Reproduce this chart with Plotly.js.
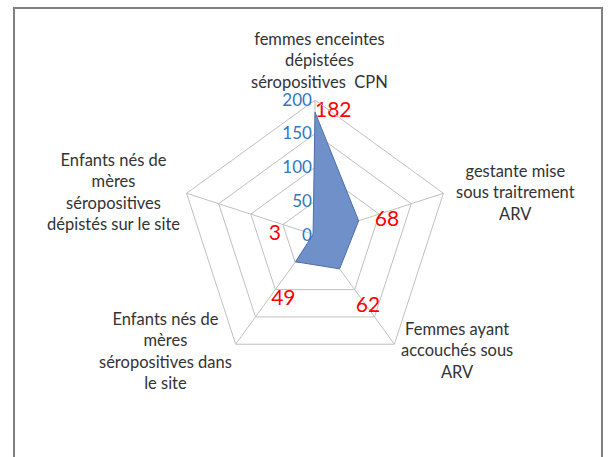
<!DOCTYPE html>
<html>
<head>
<meta charset="utf-8">
<script src="https://cdn.plot.ly/plotly-3.0.1.min.js"></script>
<style>html,body{margin:0;padding:0;background:#fff;}#chart{width:610px;height:457px;}</style>
</head>
<body>
<div id="chart"></div>
<script>
var categories = [
  "femmes enceintes<br>dépistées<br>séropositives  CPN",
  "gestante mise<br>sous traitrement<br>ARV",
  "Femmes ayant<br>accouchés sous<br>ARV",
  "Enfants nés de<br>mères<br>séropositives dans<br>le site",
  "Enfants nés de<br>mères<br>séropositives<br>dépistés sur le site"
];
var values = [182, 68, 62, 49, 3];
var radialTicks = [0, 50, 100, 150, 200];

var closedTheta = categories.concat([categories[0]]);
var closedR = values.concat([values[0]]);

var NB = '\u00a0';
// data-label text, with small padding so each label sits where the reference puts it
var labelText = [
  String(values[0]),
  NB + NB + NB + String(values[1]),
  '<br>' + NB + NB + NB + String(values[2]),
  '<br>' + String(values[3]),
  String(values[4]) + NB + NB + NB + NB + NB + NB
];

var fillTrace = {
  type: 'scatterpolar',
  r: closedR,
  theta: closedTheta,
  mode: 'lines',
  fill: 'toself',
  fillcolor: '#7090c9',
  line: {color: '#4d6ea8', width: 1},
  hoverinfo: 'skip',
  showlegend: false
};

var labelTrace = {
  type: 'scatterpolar',
  r: values,
  theta: categories,
  mode: 'text',
  text: labelText,
  textposition: ['middle right', 'middle right', 'bottom right', 'bottom left', 'middle left'],
  textfont: {family: 'Lato, Carlito, sans-serif', size: 21, color: '#ff0000'},
  hoverinfo: 'skip',
  showlegend: false
};

var labelPos = [[319, 60], [515, 192], [457, 350], [165, 351], [113, 192]];
var annotations = categories.map(function (c, i) {
  return {
    text: c, xref: 'paper', yref: 'paper',
    x: labelPos[i][0] / 610, y: 1 - labelPos[i][1] / 457,
    xanchor: 'center', yanchor: 'middle', align: 'center',
    showarrow: false,
    font: {family: 'Lato, Carlito, sans-serif', size: 16.5, color: '#333333'}
  };
});

var cx = 315, cy = 235, R = 135;
var layout = {
  width: 610, height: 457,
  margin: {l: 0, r: 0, t: 0, b: 0},
  paper_bgcolor: '#ffffff',
  showlegend: false,
  polar: {
    domain: {x: [(cx - R) / 610, (cx + R) / 610], y: [1 - (cy + R) / 457, 1 - (cy - R) / 457]},
    gridshape: 'linear',
    bgcolor: 'rgba(0,0,0,0)',
    radialaxis: {
      range: [0, 200], tickvals: radialTicks, ticktext: radialTicks.map(String),
      angle: 90, side: 'counterclockwise', tickangle: 90,
      showline: false, ticks: '', gridcolor: '#c0c0c0', gridwidth: 1,
      tickfont: {family: 'Lato, Carlito, sans-serif', size: 17, color: '#2f78be'}
    },
    angularaxis: {
      direction: 'clockwise', rotation: 90,
      showticklabels: false, ticks: '',
      gridcolor: '#c0c0c0', linecolor: '#c0c0c0', showline: true, linewidth: 1
    }
  },
  annotations: annotations,
  shapes: [{
    type: 'rect', xref: 'paper', yref: 'paper',
    x0: 14 / 610, x1: 602 / 610, y0: -0.02, y1: 1 - 8 / 457,
    line: {color: '#808080', width: 2}, fillcolor: 'rgba(0,0,0,0)', layer: 'below'
  }]
};

Plotly.newPlot('chart', [fillTrace, labelTrace], layout, {staticPlot: true, displayModeBar: false});
</script>
</body>
</html>
